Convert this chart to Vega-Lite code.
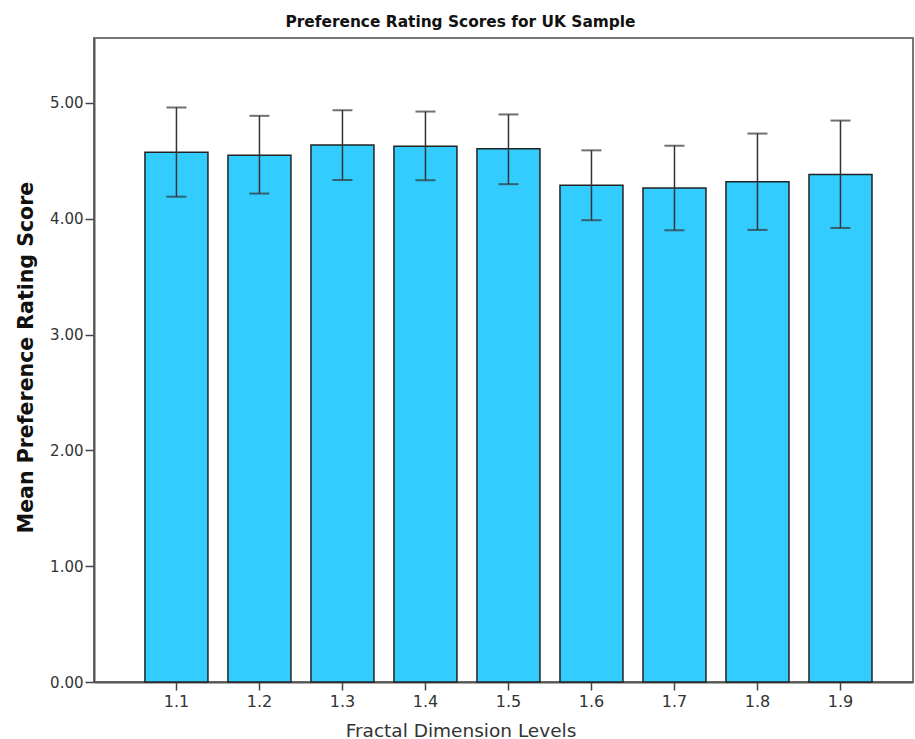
{
  "$schema": "https://vega.github.io/schema/vega-lite/v6.json",
  "width": 819,
  "height": 644,
  "autosize": {"type": "none"},
  "padding": {"left": 94, "top": 38, "right": 2, "bottom": 57},
  "background": "white",
  "title": {
    "text": "Preference Rating Scores for UK Sample",
    "font": "DejaVu Sans",
    "fontSize": 15.4,
    "fontWeight": "bold",
    "color": "#111",
    "anchor": "middle",
    "frame": "group",
    "baseline": "alphabetic",
    "offset": 10,
    "dx": -43,
    "dy": 14
  },
  "data": {
    "values": [
      {"level": "1.1", "mean": 4.574, "lo": 4.19, "hi": 4.96},
      {"level": "1.2", "mean": 4.548, "lo": 4.217, "hi": 4.888},
      {"level": "1.3", "mean": 4.637, "lo": 4.335, "hi": 4.937},
      {"level": "1.4", "mean": 4.626, "lo": 4.332, "hi": 4.925},
      {"level": "1.5", "mean": 4.603, "lo": 4.298, "hi": 4.90},
      {"level": "1.6", "mean": 4.289, "lo": 3.987, "hi": 4.59},
      {"level": "1.7", "mean": 4.266, "lo": 3.90, "hi": 4.63},
      {"level": "1.8", "mean": 4.318, "lo": 3.903, "hi": 4.735},
      {"level": "1.9", "mean": 4.381, "lo": 3.92, "hi": 4.847}
    ]
  },
  "encoding": {
    "x": {
      "field": "level",
      "type": "nominal",
      "sort": null,
      "scale": {"paddingInner": 0.241, "paddingOuter": 0.554, "align": 0.554},
      "axis": {
        "title": "Fractal Dimension Levels",
        "labelAngle": 0,
        "labelFont": "DejaVu Sans",
        "labelFontSize": 16,
        "labelColor": "#333",
        "labelPadding": 3,
        "tickSize": 8,
        "tickColor": "#444",
        "tickWidth": 1.5,
        "domainColor": "#555",
        "domainWidth": 2,
        "titleFont": "DejaVu Sans",
        "titleFontSize": 18.5,
        "titleFontWeight": "normal",
        "titleColor": "#333",
        "titleX": 366.5,
        "titleY": 54,
        "titleBaseline": "alphabetic",
        "titleAlign": "center"
      }
    }
  },
  "layer": [
    {
      "mark": {"type": "bar", "color": "#33CCFF", "stroke": "#222", "strokeWidth": 1.5},
      "encoding": {
        "y": {
          "field": "mean",
          "type": "quantitative",
          "scale": {"domain": [0, 5.56], "nice": false},
          "axis": {
            "title": "Mean Preference Rating Score",
            "values": [0, 1, 2, 3, 4, 5],
            "format": ".2f",
            "grid": false,
            "labelFont": "DejaVu Sans",
            "labelFontSize": 15,
            "labelColor": "#333",
            "labelPadding": 2,
            "tickSize": 9,
            "tickColor": "#444",
            "tickWidth": 1.5,
            "domainColor": "#555",
            "domainWidth": 2,
            "titleFont": "DejaVu Sans",
            "titleFontSize": 20.5,
            "titleFontWeight": "bold",
            "titleColor": "#111",
            "titleX": -62,
            "titleY": 319,
            "titleAngle": -90,
            "titleBaseline": "alphabetic",
            "titleAlign": "center"
          }
        }
      }
    },
    {
      "mark": {"type": "rule", "color": "#333", "strokeWidth": 1.5},
      "encoding": {
        "y": {"field": "lo", "type": "quantitative"},
        "y2": {"field": "hi"}
      }
    },
    {
      "mark": {"type": "tick", "color": "#333", "size": 20, "thickness": 2, "orient": "horizontal"},
      "encoding": {
        "y": {"field": "hi", "type": "quantitative"}
      }
    },
    {
      "mark": {"type": "tick", "color": "#333", "size": 20, "thickness": 2, "orient": "horizontal"},
      "encoding": {
        "y": {"field": "lo", "type": "quantitative"}
      }
    }
  ],
  "config": {
    "view": {"stroke": "#777", "strokeWidth": 2}
  }
}
